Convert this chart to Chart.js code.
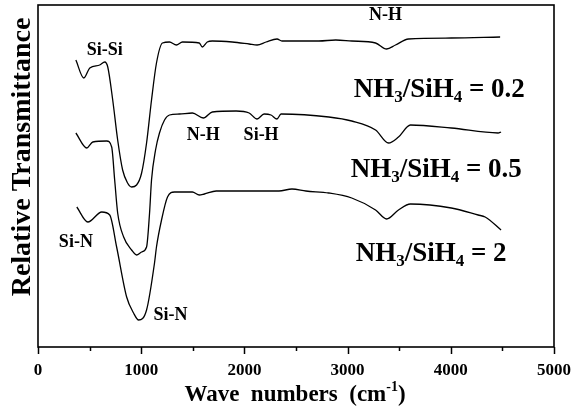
<!DOCTYPE html>
<html><head><meta charset="utf-8">
<script src="https://cdn.jsdelivr.net/npm/chart.js@4"></script>
<style>html,body{margin:0;padding:0;background:#fff}</style>
</head><body>
<canvas id="c" width="577" height="412"></canvas>
<script>
// Wave numbers (cm-1) and relative transmittance (arbitrary units, curves offset vertically)
const wn02 = [367,444,502,598,647,676,724,772,820,868,907,955,1004,1052,1100,1148,1206,1274,1341,1400,1563,1592,1640,1689,1882,2046,2123,2210,2316,2364,2721,2885,3040,3271,3378,3464,3590,4005,4478];
const t02  = [287,269,279,282,285,280,247,207,177,164,160,162,174,204,247,284,304,305,302,305,304,300,305,306,305,303,302,305,308,306,306,307,306,304,298,302,308,309,310];

const wn05 = [367,473,531,666,714,743,772,830,907,955,1004,1052,1081,1100,1139,1177,1226,1274,1370,1496,1602,1689,1920,2046,2123,2191,2258,2316,2355,2818,3040,3271,3397,3493,3609,4005,4458,4487];
const t05  = [214,199,205,206,200,167,134,110,97,92,95,100,134,167,197,214,227,232,233,234,229,235,236,234,228,233,232,228,233,230,226,217,204,210,222,219,214,215];

const wn2 = [376,483,618,695,762,859,926,975,1052,1129,1148,1197,1255,1322,1496,1563,1612,1727,2113,2335,2461,2596,2818,3040,3271,3378,3493,3609,4005,4265,4333,4487];
const t2  = [140,125,135,132,100,50,34,27,37,84,100,127,150,155,155,152,153,156,156,156,158,156,154,149,137,128,137,143,139,132,130,117];

const xTicks = [0,1000,2000,3000,4000,5000];

// band labels (data coords)
const bandText = ["Si-Si","N-H","N-H","Si-H","Si-N","Si-N"];
const bandX    = [647,3368,1602,2162,367,1283];
const bandY    = [297,332,212,212,105,32];

// ratio labels
const ratioVal = ["0.2","0.5","2"];
const ratioX   = [3059,3030,3078];
const ratioY   = [250,170,86];

const SERIF = "'Liberation Serif','Times New Roman',serif";

function toXY(xs, ys){ return xs.map((x,i)=>({x:x, y:ys[i]})); }

const annot = {
  id:'annot',
  afterDatasetsDraw(chart){
    const {ctx, chartArea:a, scales:{x,y}} = chart;
    ctx.save();
    // frame
    ctx.strokeStyle='#000'; ctx.lineWidth=1.6;
    ctx.strokeRect(a.left, a.top, a.right-a.left, a.bottom-a.top);
    // x ticks (major + minor), outward
    ctx.lineWidth=1.5;
    for(let v=0; v<=5000; v+=500){
      const px = Math.round(x.getPixelForValue(v))+0.5;
      const len = (v%1000===0)?7:4;
      ctx.beginPath(); ctx.moveTo(px,a.bottom); ctx.lineTo(px,a.bottom+len); ctx.stroke();
    }
    ctx.fillStyle='#000';
    // band labels
    ctx.font = "bold 18px "+SERIF;
    ctx.textAlign='center'; ctx.textBaseline='middle';
    bandText.forEach((t,i)=>{
      ctx.fillText(t, x.getPixelForValue(bandX[i]), y.getPixelForValue(bandY[i]));
    });
    // ratio labels with subscripts
    ctx.textAlign='left'; ctx.textBaseline='alphabetic';
    ratioVal.forEach((val,i)=>{
      let px = x.getPixelForValue(ratioX[i]);
      const py = y.getPixelForValue(ratioY[i]);
      const parts = [["NH",0],["3",1],["/SiH",0],["4",1],[" = "+val,0]];
      parts.forEach(([s,sub])=>{
        ctx.font = sub ? "bold 17px "+SERIF : "bold 27px "+SERIF;
        ctx.fillText(s, px, py + (sub?5:0));
        px += ctx.measureText(s).width;
      });
    });
    // x title
    const cx = (a.left+a.right)/2 - 1;
    const ty = 401;
    const big = "bold 23px "+SERIF, sup = "bold 14px "+SERIF;
    const segs = [["Wave  numbers  (cm",0],["-1",1],[")",0]];
    let total=0;
    segs.forEach(([s,sp])=>{ctx.font=sp?sup:big; total+=ctx.measureText(s).width;});
    let px = cx - total/2;
    segs.forEach(([s,sp])=>{
      ctx.font=sp?sup:big;
      ctx.fillText(s, px, ty - (sp?10:0));
      px += ctx.measureText(s).width;
    });
    // y title
    ctx.save();
    ctx.translate(23, 157);
    ctx.rotate(-Math.PI/2);
    ctx.font = "bold 28px "+SERIF;
    ctx.textAlign='center'; ctx.textBaseline='middle';
    ctx.fillText("Relative Transmittance", 0, 0);
    ctx.restore();
    ctx.restore();
  }
};

const ds = (xs, ys, label) => ({
  label, data: toXY(xs, ys), showLine:true, borderColor:'#000', borderWidth:1.3,
  pointRadius:0, cubicInterpolationMode:'monotone', fill:false
});

new Chart(document.getElementById('c'), {
  type:'scatter',
  data:{ datasets:[
    ds(wn02, t02, 'NH3/SiH4 = 0.2'),
    ds(wn05, t05, 'NH3/SiH4 = 0.5'),
    ds(wn2,  t2,  'NH3/SiH4 = 2')
  ]},
  options:{
    responsive:false, animation:false, devicePixelRatio:1,
    layout:{padding:{left:0,right:21,top:5,bottom:0}},
    plugins:{legend:{display:false}, tooltip:{enabled:false}},
    scales:{
      x:{
        type:'linear', min:0, max:5000,
        afterBuildTicks(s){ s.ticks = xTicks.map(v=>({value:v})); },
        afterFit(s){ s.height = 65; },
        grid:{display:true, drawOnChartArea:false, drawTicks:true, tickLength:7, color:'rgba(0,0,0,0)'},
        border:{display:false},
        ticks:{padding:6, color:'#000', maxRotation:0, autoSkip:false,
               callback:(v)=>String(v),
               font:{family:SERIF, weight:'bold', size:17}}
      },
      y:{
        min:0, max:342,
        afterFit(s){ s.width = 38; },
        grid:{display:false}, border:{display:false},
        ticks:{display:false}
      }
    }
  },
  plugins:[annot]
});
</script>
</body></html>
